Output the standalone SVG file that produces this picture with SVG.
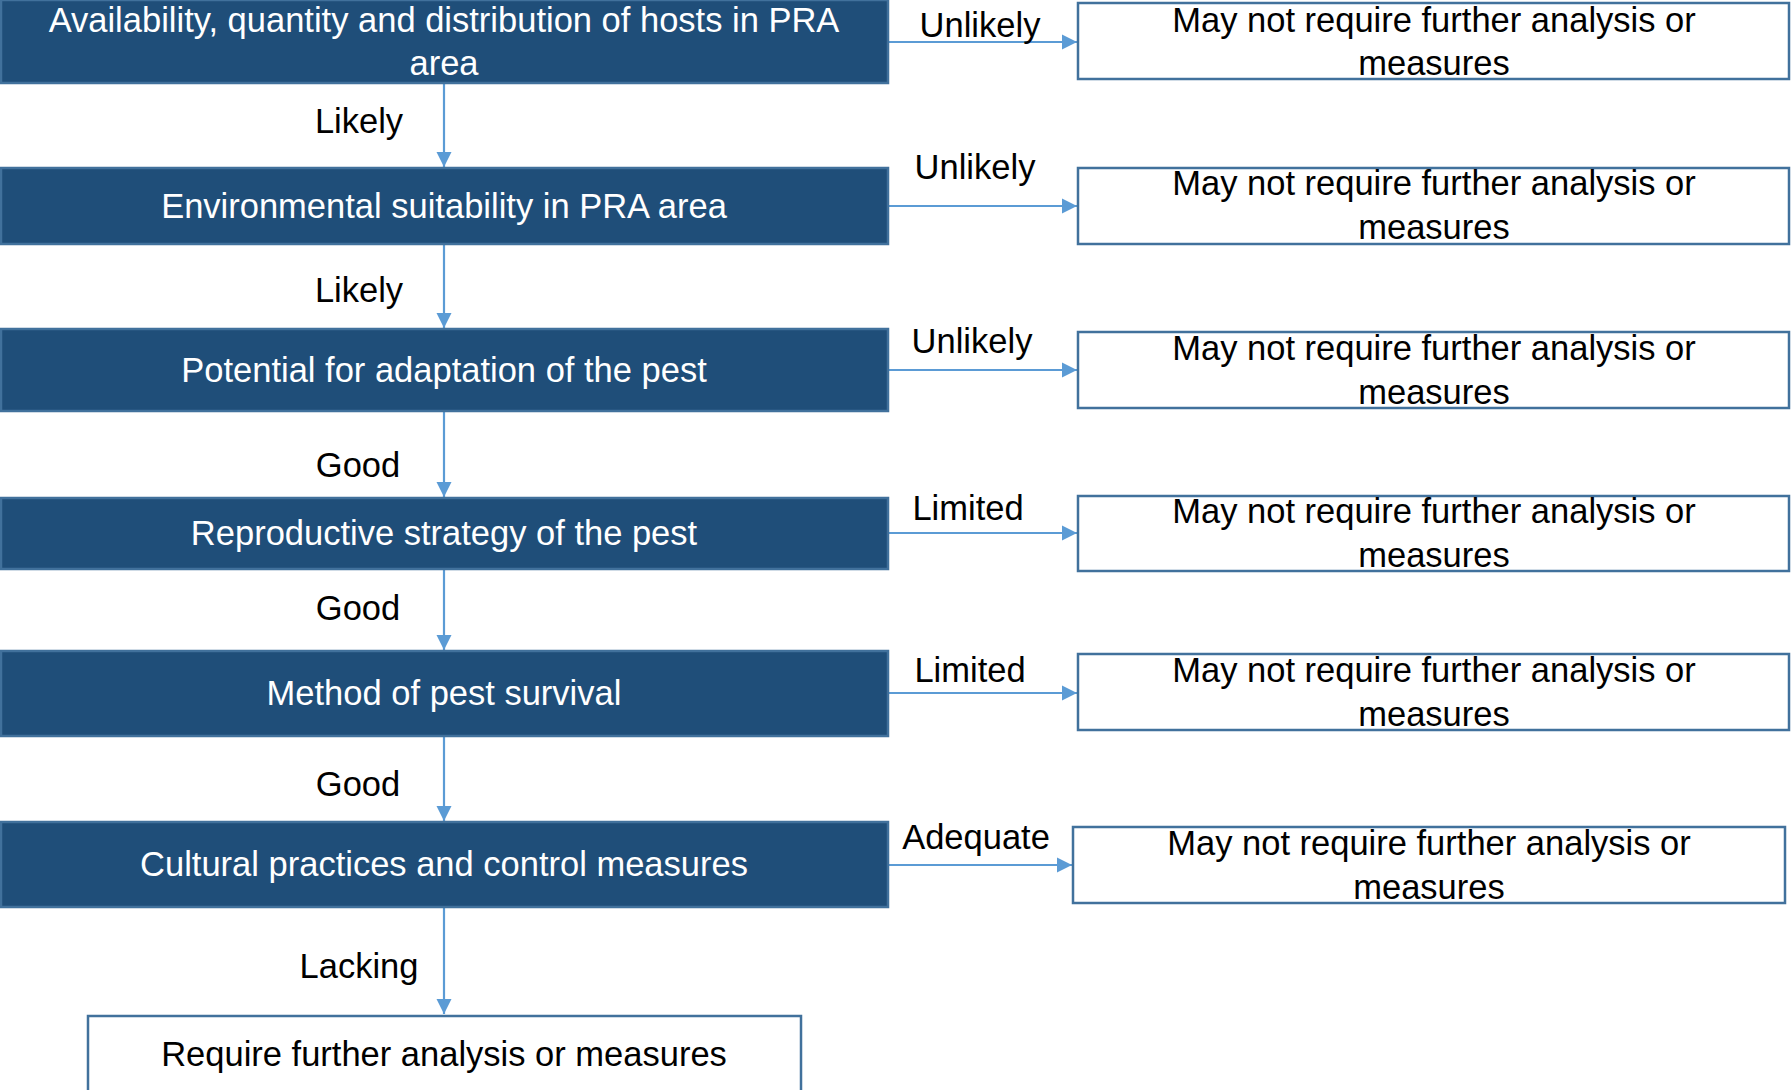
<svg xmlns="http://www.w3.org/2000/svg" width="1791" height="1090" viewBox="0 0 1791 1090">
<defs>
<style>
.dk{fill:#1F4E79;stroke:#41719C;stroke-width:2.5}
.wt{fill:#FFFFFF;stroke:#41719C;stroke-width:2.5}
.tw{font-family:"Liberation Sans",Arial,sans-serif;font-size:34.5px;fill:#FFFFFF;text-anchor:middle}
.tb{font-family:"Liberation Sans",Arial,sans-serif;font-size:34.5px;fill:#000000;text-anchor:middle}
.cn{stroke:#5B9BD5;stroke-width:2.2;fill:none;marker-end:url(#ah)}
</style>
<marker id="ah" viewBox="0 0 10 10" refX="10" refY="5" markerWidth="7" markerHeight="7" markerUnits="strokeWidth" orient="auto">
<path d="M0,0 L10,5 L0,10 Z" fill="#5B9BD5"/>
</marker>
</defs>
<rect width="1791" height="1090" fill="#FFFFFF"/>
<g id="connectors">
<line class="cn" x1="444" y1="84" x2="444" y2="167"/>
<line class="cn" x1="444" y1="245" x2="444" y2="328"/>
<line class="cn" x1="444" y1="412" x2="444" y2="497"/>
<line class="cn" x1="444" y1="570" x2="444" y2="650"/>
<line class="cn" x1="444" y1="737" x2="444" y2="821"/>
<line class="cn" x1="444" y1="908" x2="444" y2="1014"/>
<line class="cn" x1="889" y1="42" x2="1077" y2="42"/>
<line class="cn" x1="889" y1="206" x2="1077" y2="206"/>
<line class="cn" x1="889" y1="370" x2="1077" y2="370"/>
<line class="cn" x1="889" y1="533" x2="1077" y2="533"/>
<line class="cn" x1="889" y1="693" x2="1077" y2="693"/>
<line class="cn" x1="889" y1="865" x2="1072" y2="865"/>
<text class="tb" x="359" y="133">Likely</text>
<text class="tb" x="359" y="302">Likely</text>
<text class="tb" x="358" y="477">Good</text>
<text class="tb" x="358" y="620">Good</text>
<text class="tb" x="358" y="796">Good</text>
<text class="tb" x="359" y="978">Lacking</text>
<text class="tb" x="980" y="37">Unlikely</text>
<text class="tb" x="975" y="179">Unlikely</text>
<text class="tb" x="972" y="353">Unlikely</text>
<text class="tb" x="968" y="520">Limited</text>
<text class="tb" x="970" y="682">Limited</text>
<text class="tb" x="976" y="849">Adequate</text>
</g>
<g id="n1"><rect class="dk" x="1" y="0" width="887" height="83"/>
<text class="tw" x="444" y="32">Availability, quantity and distribution of hosts in PRA</text>
<text class="tw" x="444" y="75">area</text></g>
<g id="n2"><rect class="dk" x="1" y="168" width="887" height="76"/>
<text class="tw" x="444" y="218">Environmental suitability in PRA area</text></g>
<g id="n3"><rect class="dk" x="1" y="329" width="887" height="82"/>
<text class="tw" x="444" y="382">Potential for adaptation of the pest</text></g>
<g id="n4"><rect class="dk" x="1" y="498" width="887" height="71"/>
<text class="tw" x="444" y="545">Reproductive strategy of the pest</text></g>
<g id="n5"><rect class="dk" x="1" y="651" width="887" height="85"/>
<text class="tw" x="444" y="705">Method of pest survival</text></g>
<g id="n6"><rect class="dk" x="1" y="822" width="887" height="85"/>
<text class="tw" x="444" y="876">Cultural practices and control measures</text></g>
<g id="n7"><rect class="wt" x="88" y="1016" width="713" height="90"/>
<text class="tb" x="444" y="1066">Require further analysis or measures</text></g>
<g id="r1"><rect class="wt" x="1078" y="3" width="711" height="76"/>
<text class="tb" x="1434" y="32">May not require further analysis or</text>
<text class="tb" x="1434" y="75">measures</text></g>
<g id="r2"><rect class="wt" x="1078" y="168" width="711" height="76"/>
<text class="tb" x="1434" y="195">May not require further analysis or</text>
<text class="tb" x="1434" y="239">measures</text></g>
<g id="r3"><rect class="wt" x="1078" y="332" width="711" height="76"/>
<text class="tb" x="1434" y="360">May not require further analysis or</text>
<text class="tb" x="1434" y="404">measures</text></g>
<g id="r4"><rect class="wt" x="1078" y="496" width="711" height="75"/>
<text class="tb" x="1434" y="523">May not require further analysis or</text>
<text class="tb" x="1434" y="567">measures</text></g>
<g id="r5"><rect class="wt" x="1078" y="654" width="711" height="76"/>
<text class="tb" x="1434" y="682">May not require further analysis or</text>
<text class="tb" x="1434" y="726">measures</text></g>
<g id="r6"><rect class="wt" x="1073" y="827" width="712" height="76"/>
<text class="tb" x="1429" y="855">May not require further analysis or</text>
<text class="tb" x="1429" y="899">measures</text></g>
</svg>
